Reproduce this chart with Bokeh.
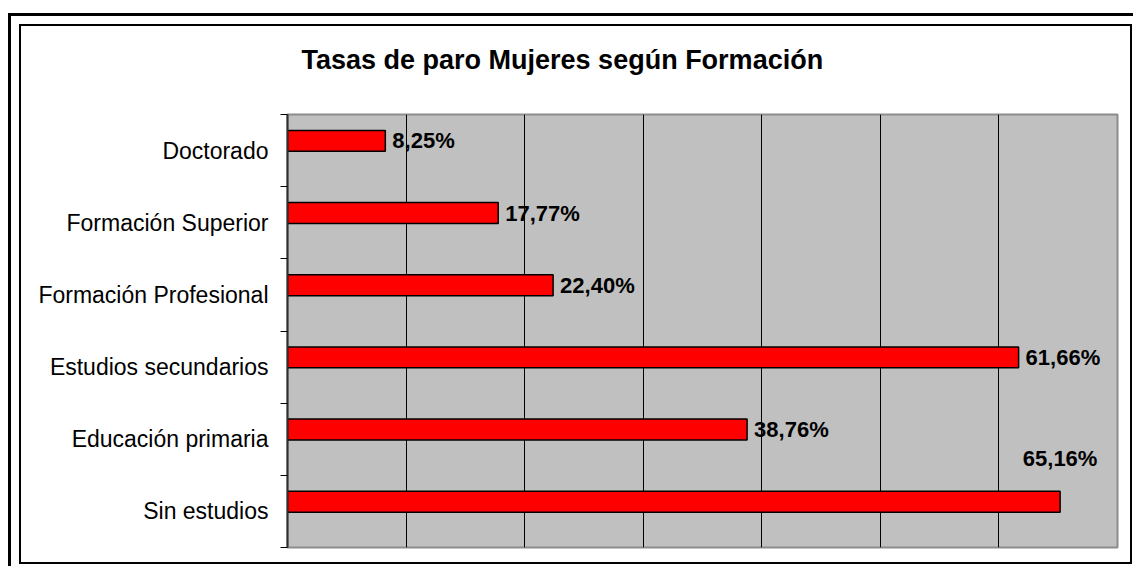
from bokeh.plotting import figure
from bokeh.models import FixedTicker, ColumnDataSource, Title
from bokeh.embed import file_html
from bokeh.resources import INLINE
from bokeh.core.properties import value

# ---- data (top to bottom as shown) ----
categories = ["Doctorado", "Formación Superior", "Formación Profesional",
              "Estudios secundarios", "Educación primaria", "Sin estudios"]
rates = [8.25, 17.77, 22.40, 61.66, 38.76, 65.16]
x_ticks = [10, 20, 30, 40, 50, 60]
title_text = "Tasas de paro Mujeres según Formación"

FONT = "Liberation Sans"
n = len(categories)
centers = [n - 1 - i + 0.5 for i in range(n)]
bar_y = [c + 0.135 for c in centers]
labels = [f"{v:.2f}%".replace(".", ",") for v in rates]

p = figure(width=1109, height=536, x_range=(0, 70), y_range=(0, n),
           output_backend="svg", toolbar_location=None,
           min_border_left=266, min_border_right=13,
           min_border_top=88, min_border_bottom=15,
           margin=(26, 0, 0, 21),
           styles={"box-shadow": "0 0 0 2px black",
                   "outline": "3px solid black",
                   "outline-offset": "10px"})

p.background_fill_color = "#C0C0C0"
p.border_fill_color = "white"
p.outline_line_color = "#8c8c8c"
p.outline_line_width = 2

p.xaxis.visible = False
p.xgrid.ticker = FixedTicker(ticks=x_ticks)
p.xgrid.grid_line_color = "black"
p.xgrid.grid_line_width = 1
p.ygrid.visible = False

yax = p.yaxis[0]
yax.ticker = FixedTicker(ticks=centers, minor_ticks=list(range(n + 1)))
yax.major_label_overrides = {c: name for c, name in zip(centers, categories)}
yax.major_tick_out = 0
yax.major_tick_in = 0
yax.minor_tick_out = 7
yax.minor_tick_in = 0
yax.minor_tick_line_color = "black"
yax.axis_line_color = "#303030"
yax.axis_line_width = 2
yax.major_label_standoff = 12
yax.major_label_text_font = FONT
yax.major_label_text_font_size = "23px"
yax.major_label_text_color = "black"

src = ColumnDataSource(dict(y=bar_y[:-1], v=rates[:-1], label=labels[:-1]))
bars = ColumnDataSource(dict(y=bar_y, v=rates))

p.hbar(y="y", left=0, right="v", height=0.29, source=bars,
       fill_color="#FF0000", line_color="black", line_width=1.5)

p.text(x="v", y="y", text="label", source=src, x_offset=7,
       text_align="left", text_baseline="middle",
       text_font=value(FONT), text_font_style="bold",
       text_font_size="22px", text_color="black")

p.text(x=[rates[-1]], y=[bar_y[-1]], text=[labels[-1]], y_offset=-43,
       text_align="center", text_baseline="middle",
       text_font=value(FONT), text_font_style="bold",
       text_font_size="22px", text_color="black")

# spacer (nearest the frame) then the real title above it
spacer = Title(text=" ", text_font=FONT, text_font_size="27px",
               text_font_style="bold", standoff=8)
main_title = Title(text=title_text, text_font=FONT, text_font_size="27px",
                   text_font_style="bold", text_color="black",
                   align="left", offset=14, standoff=0)
p.add_layout(spacer, "above")
p.add_layout(main_title, "above")

open("out.html", "w").write(file_html(p, INLINE))
